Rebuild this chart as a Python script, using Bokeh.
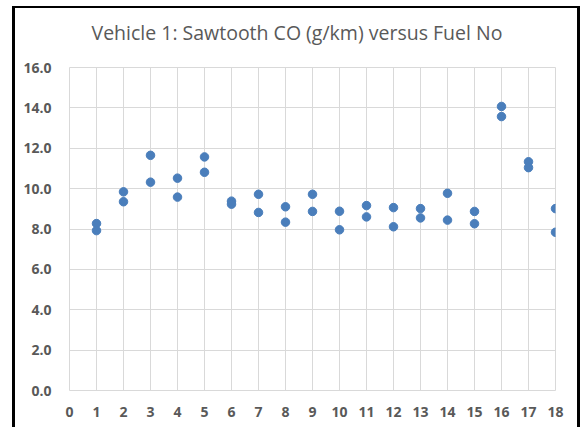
from bokeh.plotting import figure
from bokeh.models import ColumnDataSource, Range1d, FixedTicker, PrintfTickFormatter, Title
from bokeh.embed import file_html
from bokeh.resources import INLINE

fuel_no = [1, 1, 2, 2, 3, 3, 4, 4, 5, 5, 6, 6, 7, 7, 8, 8, 9, 9,
           10, 10, 11, 11, 12, 12, 13, 13, 14, 14, 15, 15, 16, 16, 17, 17, 18, 18]
co_g_km = [8.27, 7.92, 9.84, 9.35, 11.65, 10.32, 10.52, 9.58, 11.57, 10.81,
           9.38, 9.23, 9.72, 8.82, 9.10, 8.34, 9.72, 8.87,
           8.88, 7.96, 9.16, 8.60, 9.06, 8.11, 9.01, 8.55, 9.77, 8.44,
           8.87, 8.26, 14.07, 13.57, 11.33, 11.04, 9.01, 7.84]
x_ticks = list(range(0, 19))
y_ticks = [0, 2, 4, 6, 8, 10, 12, 14, 16]
title_text = "Vehicle 1: Sawtooth CO (g/km) versus Fuel No"

src = ColumnDataSource(data=dict(x=fuel_no, y=co_g_km))

p = figure(output_backend="svg", toolbar_location=None,
           x_range=Range1d(0, 18), y_range=Range1d(0, 16),
           frame_width=486, frame_height=323,
           min_border_left=54, min_border_right=22, min_border_top=59, min_border_bottom=37,
           title=title_text)

p.scatter("x", "y", source=src, size=8.5, fill_color="#4a7ebb", line_color="#4a7ebb")

grid_color = "#d9d9d9"
p.xaxis.ticker = FixedTicker(ticks=x_ticks)
p.yaxis.ticker = FixedTicker(ticks=y_ticks)
p.yaxis.formatter = PrintfTickFormatter(format="%.1f")
for ax in (p.xaxis, p.yaxis):
    ax.axis_line_color = None
    ax.major_tick_line_color = None
    ax.minor_tick_line_color = None
    ax.major_label_text_font = "Open Sans"
    ax.major_label_text_font_style = "bold"
    ax.major_label_text_font_size = "14px"
    ax.major_label_text_color = "#595959"
p.yaxis.major_label_standoff = 12
p.xaxis.major_label_standoff = 10
p.xgrid.grid_line_color = grid_color
p.ygrid.grid_line_color = grid_color
p.outline_line_color = grid_color

# spacer between the title and the plot frame
p.add_layout(Title(text=" ", text_font_size="1px", standoff=19), "above")

p.title.align = "left"
p.title.offset = 22
p.title.standoff = 0
p.title.text_font = "Open Sans"
p.title.text_font_style = "normal"
p.title.text_font_size = "19.5px"
p.title.text_color = "#595959"

p.styles = {"border-left": "3px solid black", "border-top": "2px solid black",
            "border-right": "3px solid black", "margin-left": "12px", "margin-top": "6px"}

open("out.html", "w").write(file_html(p, INLINE))
